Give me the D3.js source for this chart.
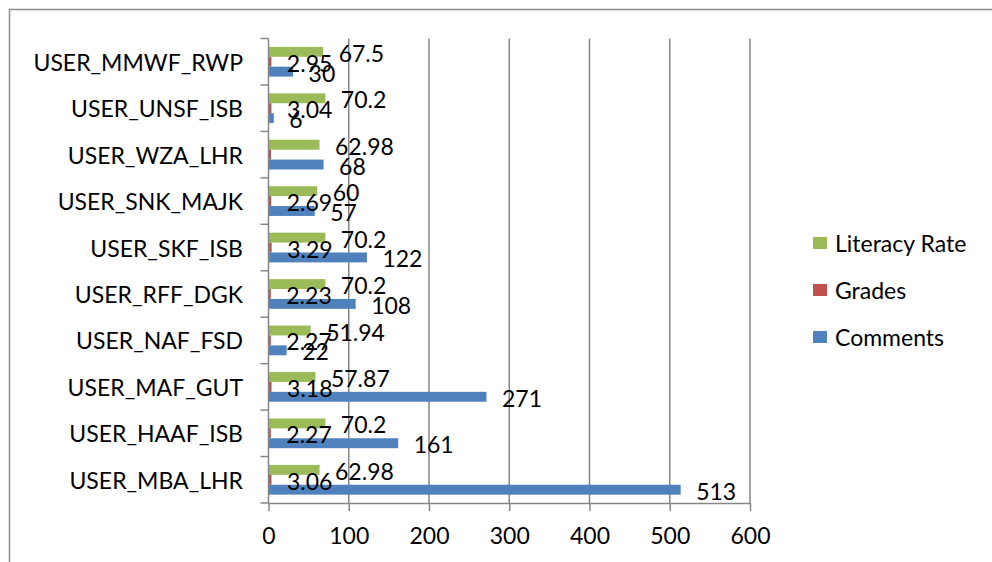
<!DOCTYPE html>
<html>
<head>
<meta charset="utf-8">
<script src="https://cdn.jsdelivr.net/npm/d3@7"></script>
<style>
	body { margin: 0; background: #fff; }
	text { font-family: Lato, "Open Sans", sans-serif; fill: #000; }
</style>
</head>
<body>
<div id="chart"></div>
<script>
// categories, bottom to top as in the picture
var users = ["USER_MBA_LHR", "USER_HAAF_ISB", "USER_MAF_GUT", "USER_NAF_FSD", "USER_RFF_DGK",
	"USER_SKF_ISB", "USER_SNK_MAJK", "USER_WZA_LHR", "USER_UNSF_ISB", "USER_MMWF_RWP"];
var comments = [513, 161, 271, 22, 108, 122, 57, 68, 6, 30];
var grades = [3.06, 2.27, 3.18, 2.27, 2.23, 3.29, 2.69, 2.5, 3.04, 2.95];
var literacy = [62.98, 70.2, 57.87, 51.94, 70.2, 70.2, 60, 62.98, 70.2, 67.5];
var seriesNames = ["Literacy Rate", "Grades", "Comments"];
var seriesColours = ["#9bbb59", "#c0504d", "#4f81bd"];
var xTicks = [0, 100, 200, 300, 400, 500, 600];
// the grades label of USER_WZA_LHR is not shown in the picture
var unlabelled = ["USER_WZA_LHR|Grades"];

function init() {
	var w = 992;
	var h = 562;
	var fs = 23;

	var svg = d3.select("#chart")
		.append("svg")
		.attr("width", w)
		.attr("height", h);

	// chart frame (only top and left edges visible)
	svg.append("path")
		.attr("d", "M9.5," + h + "V9.5H" + w)
		.attr("fill", "none")
		.attr("stroke", "#8c8c8c")
		.attr("stroke-width", 1.5);

	var seriesData = [literacy, grades, comments];

	var x = d3.scaleLinear()
		.domain([0, 600])
		.range([268.5, 750]);

	// top category first
	var y0 = d3.scaleBand()
		.domain(users.slice().reverse())
		.range([38.5, 503])
		.paddingInner(0.36)
		.paddingOuter(0.18);

	var y1 = d3.scaleBand()
		.domain(seriesNames)
		.range([0, y0.bandwidth()]);

	// gridlines
	svg.append("g")
		.selectAll("line")
		.data(xTicks.slice(1))
		.join("line")
			.attr("x1", d => x(d))
			.attr("x2", d => x(d))
			.attr("y1", 38.5)
			.attr("y2", 503)
			.attr("stroke", "#868686")
			.attr("stroke-width", 1.5);

	var rows = [];
	users.forEach(function(u, i) {
		seriesNames.forEach(function(s, j) {
			rows.push({ user: u, series: s, value: seriesData[j][i], colour: seriesColours[j] });
		});
	});

	svg.append("g")
		.selectAll("rect")
		.data(rows)
		.join("rect")
			.attr("x", x(0) + 0.5)
			.attr("y", d => y0(d.user) + y1(d.series))
			.attr("width", d => x(d.value) - x(0))
			.attr("height", y1.bandwidth())
			.attr("fill", d => d.colour);

	// y axis
	var yBounds = d3.range(users.length + 1).map(i => 38.5 + i * (503 - 38.5) / users.length);
	svg.append("line")
		.attr("x1", x(0)).attr("x2", x(0))
		.attr("y1", 38.5).attr("y2", 503)
		.attr("stroke", "#868686").attr("stroke-width", 1.5);
	svg.append("g")
		.selectAll("line")
		.data(yBounds)
		.join("line")
			.attr("x1", x(0) - 8).attr("x2", x(0))
			.attr("y1", d => d).attr("y2", d => d)
			.attr("stroke", "#868686").attr("stroke-width", 1.5);

	svg.append("g")
		.selectAll("text")
		.data(users)
		.join("text")
			.attr("x", 243)
			.attr("y", d => y0(d) + y0.bandwidth() / 2)
			.attr("text-anchor", "end")
			.attr("dominant-baseline", "central")
			.attr("font-size", fs)
			.text(d => d);

	// x axis
	svg.append("g")
		.attr("transform", "translate(0,503)")
		.call(d3.axisBottom(x).tickValues(xTicks).tickSize(8).tickPadding(17).tickSizeOuter(0))
		.call(g => g.selectAll("line, path").attr("stroke", "#868686").attr("stroke-width", 1.5))
		.call(g => g.selectAll("text").attr("font-size", fs).attr("font-family", "Lato, 'Open Sans', sans-serif").attr("fill", "#000"));

	// data labels
	svg.append("g")
		.selectAll("text")
		.data(rows.filter(d => unlabelled.indexOf(d.user + "|" + d.series) < 0))
		.join("text")
			.attr("x", d => x(d.value) + 16)
			.attr("y", d => y0(d.user) + y1(d.series) + y1.bandwidth() / 2 + 1)
			.attr("dominant-baseline", "central")
			.attr("font-size", fs)
			.text(d => d.value);

	// legend
	var legend = svg.append("g")
		.selectAll("g")
		.data(seriesNames)
		.join("g")
			.attr("transform", (d, i) => `translate(813,${243 + i * 47})`);
	legend.append("rect")
		.attr("x", 0).attr("y", -6)
		.attr("width", 14).attr("height", 12)
		.attr("fill", (d, i) => seriesColours[i]);
	legend.append("text")
		.attr("x", 22)
		.attr("dominant-baseline", "central")
		.attr("font-size", fs)
		.text(d => d);
}

window.onload = init;
</script>
</body>
</html>
